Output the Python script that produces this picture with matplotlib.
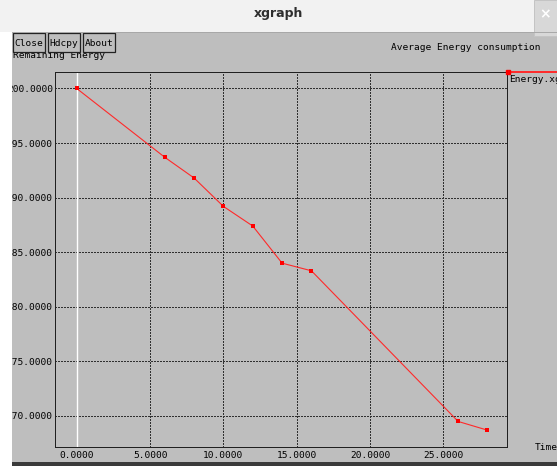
import matplotlib
matplotlib.use("Agg")
import matplotlib.pyplot as plt
from matplotlib.patches import Rectangle

# data
time = [0, 6, 8, 10, 12, 14, 16, 26, 28]
energy = [200.0, 193.7, 191.8, 189.2, 187.4, 184.0, 183.3, 169.5, 168.7]
xticks = [0, 5, 10, 15, 20, 25]
yticks = [170, 175, 180, 185, 190, 195, 200]
buttons = ["Close", "Hdcpy", "About"]

W, H = 557, 466
BG = "#bebebe"
MONO = "DejaVu Sans Mono"
FS = 6.8
DOT = (0, (2, 2))

fig = plt.figure(figsize=(W / 100, H / 100), dpi=100)
fig.patch.set_facecolor(BG)

# background layer in pixel coordinates
bg = fig.add_axes([0, 0, 1, 1], zorder=0)
bg.set_xlim(0, W)
bg.set_ylim(H, 0)
bg.axis("off")

bg.text(13, 55, "Remaining Energy", fontsize=FS, family=MONO, va="center", ha="left")
bg.text(391, 48, "Average Energy consumption", fontsize=FS, family=MONO, va="center", ha="left")
bg.text(535, 447, "Time", fontsize=FS, family=MONO, va="center", ha="left")

# plot area
x0, x1, y0, y1 = 55, 507, 72, 447
ax = fig.add_axes([x0 / W, (H - y1) / H, (x1 - x0) / W, (y1 - y0) / H], zorder=1)
ax.set_facecolor("none")
ax.set_xlim(-1.48, 29.33)
ax.set_ylim(167.16, 201.51)
ax.set_xticks(xticks)
ax.set_yticks(yticks)
ax.set_xticklabels(["%.4f" % v for v in xticks], fontsize=FS, family=MONO)
ax.set_yticklabels(["%.4f" % v for v in yticks], fontsize=FS, family=MONO)
ax.tick_params(length=0, pad=1.5)
ax.tick_params(axis="x", pad=3.0)
ax.grid(True, color="#303030", linestyle=DOT, linewidth=0.72, antialiased=False)
for sp in ax.spines.values():
    sp.set_linestyle(DOT)
    sp.set_linewidth(0.72)
    sp.set_color("#202020")
    sp.set_antialiased(False)
ax.axvline(0, color="white", lw=1.0, zorder=2)
ax.plot(time, energy, color="#ff2a2a", lw=0.8, marker="s", markersize=2.6,
        markeredgewidth=0, markerfacecolor="#ff0000", zorder=3)

# overlay: window chrome
ov = fig.add_axes([0, 0, 1, 1], zorder=5)
ov.set_xlim(0, W)
ov.set_ylim(H, 0)
ov.axis("off")
ov.patch.set_alpha(0)

# legend entry on the right
ov.plot([508, W], [72, 72], color="#ff2a2a", lw=1.4, clip_on=False)
ov.plot([508], [72], marker="s", color="#ff0000", markersize=3, clip_on=False)
ov.text(509, 79, "Energy.xg", fontsize=FS, family=MONO, va="center", ha="left")

# buttons
for i, b in enumerate(buttons):
    bx = 13 + i * 35
    ov.add_patch(Rectangle((bx, 33), 32, 19, facecolor=BG, edgecolor="#222222", lw=0.9))
    ov.text(bx + 16, 43, b, fontsize=FS, family=MONO, va="center", ha="center")

# left margin, title bar, bottom strip
ov.add_patch(Rectangle((0, 0), 12, H, facecolor="white", edgecolor="none"))
ov.add_patch(Rectangle((0, 0), W, 32, facecolor="#f2f2f2", edgecolor="none"))
ov.plot([12, W], [32, 32], color="#a8a8a8", lw=0.7)
ov.add_patch(Rectangle((534, 0), 23, 36, facecolor="#d8d8d8", edgecolor="#c4c4c4", lw=0.7))
ov.text(545, 14, "×", fontsize=10, color="white", fontweight="bold", va="center", ha="center")
ov.text(278, 13, "xgraph", fontsize=9, fontweight="bold", color="#2e2e2e",
        va="center", ha="center", family="DejaVu Sans")
ov.add_patch(Rectangle((12, 462), W - 12, 4, facecolor="#3a3a3a", edgecolor="none"))

fig.savefig("out.png", dpi=100, facecolor=fig.get_facecolor())
